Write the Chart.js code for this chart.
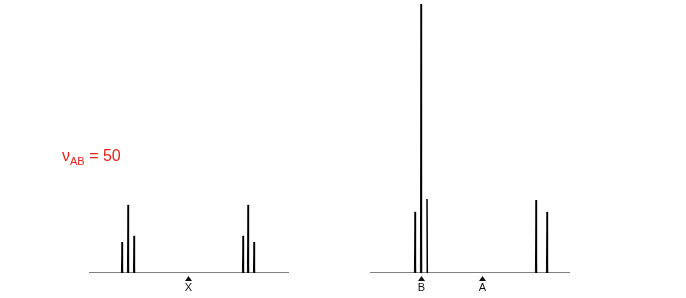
<!DOCTYPE html>
<html>
<head>
<meta charset="utf-8">
<script src="https://cdn.jsdelivr.net/npm/chart.js@4"></script>
<style>
  body { margin: 0; background: #fff; width: 686px; height: 298px; position: relative; overflow: hidden; font-family: "Liberation Sans", Arial, sans-serif; }
  .spec { position: absolute; top: 0; width: 200px; height: 298px; }
  #note { position: absolute; left: 62px; top: 147px; color: #e8201a; font-size: 16px; }
  #note sub { font-size: 11px; vertical-align: -4px; }
</style>
</head>
<body>
<div class="spec" style="left:89px"><canvas id="left"></canvas></div>
<div class="spec" style="left:370px"><canvas id="right"></canvas></div>
<div id="note">ν<sub>AB</sub> = 50</div>
<script>
// x in Hz-like units across a 200-unit window, y as % of the tallest line
const leftPeaks = [33, 39, 45, 154, 159, 165];
const leftHeights = [11.5, 25.3, 13.8, 13.8, 25.3, 11.5];
const leftMarkers = ["X"];
const leftMarkerPos = [99];

const rightPeaks = [45, 51, 57, 166, 177];
const rightHeights = [22.7, 100, 27.5, 27.1, 22.7];
const rightMarkers = ["B", "A"];
const rightMarkerPos = [51, 112];

const xMin = 0, xMax = 200;
const halfWidth = 0.6;

function spectrumPoints(peaks, heights) {
  const pts = [{ x: xMin, y: 0 }];
  peaks.forEach((p, i) => {
    pts.push({ x: p - halfWidth, y: 0 });
    pts.push({ x: p, y: heights[i] });
    pts.push({ x: p + halfWidth, y: 0 });
  });
  pts.push({ x: xMax, y: 0 });
  return pts;
}

const markerPlugin = {
  id: "markers",
  afterDraw(chart) {
    const opts = chart.options.plugins.markers;
    const ctx = chart.ctx;
    const xs = chart.scales.x;
    const base = chart.chartArea.bottom;
    ctx.save();
    ctx.fillStyle = "#111";
    ctx.font = "11px 'Liberation Sans', Arial, sans-serif";
    ctx.textAlign = "center";
    ctx.textBaseline = "top";
    opts.labels.forEach((lab, i) => {
      const px = Math.round(xs.getPixelForValue(opts.pos[i])) + 0.5;
      ctx.beginPath();
      ctx.moveTo(px, base + 3);
      ctx.lineTo(px - 3.5, base + 8);
      ctx.lineTo(px + 3.5, base + 8);
      ctx.closePath();
      ctx.fill();
      ctx.fillText(lab, px, base + 9);
    });
    ctx.restore();
  },
};

function makeSpectrum(id, peaks, heights, labels, pos) {
  new Chart(document.getElementById(id), {
    type: "line",
    data: {
      datasets: [
        {
          data: spectrumPoints(peaks, heights),
          borderColor: "#000",
          borderWidth: 1,
          pointRadius: 0,
          tension: 0,
          fill: false,
        },
      ],
    },
    options: {
      responsive: true,
      maintainAspectRatio: false,
      animation: false,
      layout: { padding: { top: 4, bottom: 25, left: 0, right: 0 } },
      plugins: {
        legend: { display: false },
        tooltip: { enabled: false },
        markers: { labels, pos },
      },
      scales: {
        x: { type: "linear", min: xMin, max: xMax, display: false },
        y: { min: 0, max: 100, display: false },
      },
    },
    plugins: [markerPlugin],
  });
}

makeSpectrum("left", leftPeaks, leftHeights, leftMarkers, leftMarkerPos);
makeSpectrum("right", rightPeaks, rightHeights, rightMarkers, rightMarkerPos);
</script>
</body>
</html>
